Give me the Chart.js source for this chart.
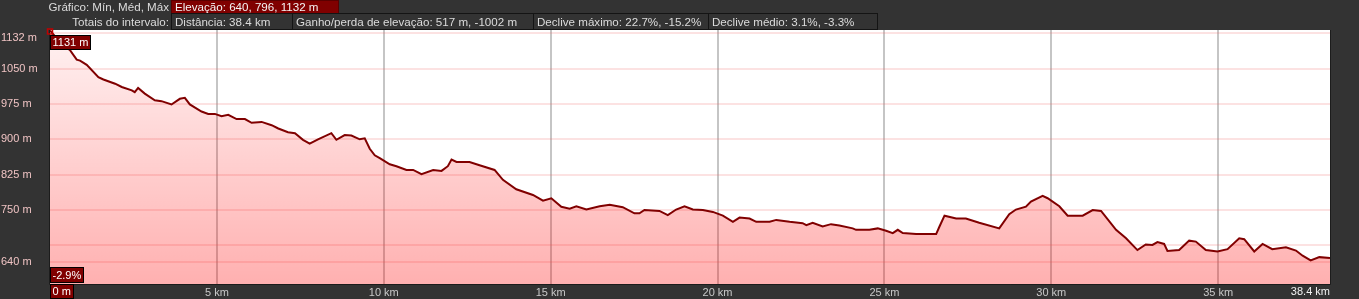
<!DOCTYPE html>
<html lang="pt-BR">
<head>
<meta charset="utf-8">
<script src="https://cdn.jsdelivr.net/npm/chart.js@4.4.1/dist/chart.umd.min.js"></script>
<style>
  html, body { margin: 0; padding: 0; background: #333333; }
  #wrap { position: relative; width: 1359px; height: 299px; overflow: hidden; }
  #grafico { position: absolute; left: 0; top: 0; }
  .lbl, .box { position: absolute; font: 11.6px "Liberation Sans", Arial, sans-serif; color: #dcdcdc; white-space: nowrap; }
  .lbl { left: 0; width: 169px; text-align: right; }
  .box { box-sizing: border-box; border: 1px solid #141414; padding-left: 3px; }
  .box.red { background: #800000; color: #f4f4f4; border-color: #5a0000; }
</style>
</head>
<body>
<div id="wrap">
  <canvas id="grafico" width="1359" height="299"></canvas>
  <div class="lbl" style="top:0;line-height:13px">Gráfico: Mín, Méd, Máx</div>
  <div class="box red" style="left:171px;top:0;width:168px;height:14px;line-height:12px">Elevação: 640, 796, 1132 m</div>
  <div class="lbl" style="top:14px;line-height:16px">Totais do intervalo:</div>
  <div class="box" style="left:171px;top:13px;width:122px;height:17px;line-height:15px">Distância: 38.4 km</div>
  <div class="box" style="left:292px;top:13px;width:242px;height:17px;line-height:15px">Ganho/perda de elevação: 517 m, -1002 m</div>
  <div class="box" style="left:533px;top:13px;width:176px;height:17px;line-height:15px">Declive máximo: 22.7%, -15.2%</div>
  <div class="box" style="left:708px;top:13px;width:170px;height:17px;line-height:15px">Declive médio: 3.1%, -3.3%</div>
</div>
<script>
/* Perfil de elevação: distância (km) x elevação (m) */

const distKm = [
  0, 0.3, 0.6, 0.8, 0.9, 1.1, 1.45, 1.6, 1.95, 2.15,
  2.45, 2.54, 2.64, 2.84, 3.14, 3.34, 3.64, 3.89, 4.04, 4.19,
  4.54, 4.74, 4.94, 5.14, 5.34, 5.59, 5.84, 6.04, 6.34, 6.64,
  6.84, 7.13, 7.34, 7.58, 7.78, 8.03, 8.43, 8.58, 8.83, 9.03,
  9.28, 9.43, 9.58, 9.73, 9.88, 10.18, 10.38, 10.68, 10.88, 11.13,
  11.48, 11.73, 11.92, 12.03, 12.18, 12.57, 12.87, 13.32, 13.57, 13.97,
  14.47, 14.77, 15.02, 15.32, 15.57, 15.77, 16.07, 16.47, 16.77, 17.16,
  17.51, 17.66, 17.81, 18.26, 18.51, 18.76, 19.01, 19.26, 19.56, 19.86,
  20.16, 20.46, 20.66, 20.96, 21.16, 21.56, 21.76, 22.16, 22.55, 22.66,
  22.85, 23.15, 23.40, 23.65, 24.05, 24.15, 24.55, 24.80, 25.05, 25.25,
  25.40, 25.55, 25.95, 26.35, 26.55, 26.65, 26.80, 27.15, 27.44, 27.84,
  28.44, 28.74, 28.94, 29.24, 29.39, 29.74, 29.89, 30.24, 30.49, 30.94,
  31.24, 31.49, 31.94, 32.24, 32.58, 32.83, 33.03, 33.18, 33.38, 33.48,
  33.83, 34.13, 34.33, 34.63, 34.98, 35.28, 35.63, 35.78, 36.08, 36.33,
  36.62, 37.03, 37.33, 37.53, 37.77, 38.03, 38.35
];
const elevM = [
  1131, 1106, 1089, 1069, 1067, 1058, 1032, 1027, 1018, 1011,
  1004, 1000, 1009, 997, 983, 981, 974, 986, 988, 974,
  959, 954, 954, 949, 952, 943, 943, 935, 937, 930,
  923, 915, 913, 899, 891, 900, 913, 899, 909, 908,
  900, 902, 880, 866, 860, 847, 843, 835, 835, 826,
  835, 833, 843, 857, 852, 852, 845, 835, 814, 794,
  782, 770, 775, 757, 753, 758, 751, 758, 761, 756,
  743, 743, 750, 748, 739, 751, 758, 751, 750, 746,
  738, 725, 734, 732, 725, 725, 729, 725, 722, 718,
  723, 715, 720, 717, 711, 708, 708, 711, 706, 701,
  708, 701, 699, 699, 699, 715, 738, 732, 732, 723,
  711, 741, 751, 757, 768, 780, 775, 758, 738, 738,
  750, 748, 708, 690, 665, 677, 676, 682, 678, 663,
  665, 685, 683, 665, 662, 667, 690, 688, 662, 678,
  667, 671, 664, 653, 643, 650, 648
];

const yGrade = [640, 675, 750, 825, 900, 975, 1050, 1125, 1132];   // linhas de grade
const yRotulos = [640, 750, 825, 900, 975, 1050];                   // rótulos normais
const yMin = 593, yMax = 1132;
const xTicks = [5, 10, 15, 20, 25, 30, 35];
const xMax = 38.35;
const rotuloMax = '1132 m', rotuloFim = '38.4 km', rotuloIni = '0 m';
const rotuloPonto = '1131 m', rotuloDeclive = '-2.9%';

const FONTE = '11px "Liberation Sans", Arial, sans-serif';

function caixa(ctx, txt, x, y, h) {
  ctx.font = FONTE;
  const w = Math.ceil(ctx.measureText(txt).width) + 5;
  ctx.fillStyle = '#800000';
  ctx.fillRect(x, y, w, h);
  ctx.strokeStyle = '#000';
  ctx.lineWidth = 1;
  ctx.strokeRect(x + .5, y + .5, w - 1, h - 1);
  ctx.fillStyle = '#ffffff';
  ctx.textAlign = 'left';
  ctx.textBaseline = 'middle';
  ctx.fillText(txt, x + 2.5, y + h / 2 + .5);
}

// fundo branco na área do gráfico
const fundoArea = {
  id: 'fundoArea',
  beforeDraw(chart) {
    const { ctx, chartArea: a } = chart;
    ctx.save();
    ctx.fillStyle = '#ffffff';
    ctx.fillRect(a.left, a.top, a.right - a.left, a.bottom - a.top);
    ctx.restore();
  }
};

// bordas, rótulos especiais e marcadores
const extras = {
  id: 'extras',
  afterDraw(chart) {
    const { ctx, chartArea: a, scales } = chart;
    ctx.save();
    ctx.strokeStyle = '#1c1c1c';
    ctx.lineWidth = 1;
    ctx.beginPath();
    ctx.moveTo(a.left - .5, a.top); ctx.lineTo(a.left - .5, a.bottom + .5);
    ctx.lineTo(a.right + .5, a.bottom + .5); ctx.lineTo(a.right + .5, a.top);
    ctx.stroke();

    // rótulo do máximo, preso abaixo do topo
    ctx.font = FONTE;
    ctx.fillStyle = '#efc3c3';
    ctx.textAlign = 'left';
    ctx.textBaseline = 'middle';
    const yPx = Math.max(scales.y.getPixelForValue(yMax), a.top + 8);
    ctx.fillText(rotuloMax, 1, yPx);

    // rótulo final do eixo x
    ctx.fillStyle = '#f2f2f2';
    ctx.textAlign = 'right';
    ctx.fillText(rotuloFim, scales.x.getPixelForValue(xMax), a.bottom + 8);

    // marcador do ponto inicial
    const px = scales.x.getPixelForValue(distKm[0]);
    const py = scales.y.getPixelForValue(elevM[0]);
    ctx.strokeStyle = '#c00000';
    ctx.lineWidth = 1.5;
    ctx.strokeRect(px - 2.5, py - 1.5, 5, 5);

    caixa(ctx, rotuloPonto, a.left, a.top + 5, 15);
    caixa(ctx, rotuloDeclive, a.left, a.bottom - 17, 16);
    caixa(ctx, rotuloIni, a.left, a.bottom, 15);
    ctx.restore();
  }
};

new Chart(document.getElementById('grafico'), {
  type: 'line',
  data: {
    datasets: [{
      data: distKm.map((d, i) => ({ x: d, y: elevM[i] })),
      borderColor: '#800000',
      borderWidth: 2,
      pointRadius: 0,
      tension: 0,
      fill: 'start',
      backgroundColor(c) {
        const a = c.chart.chartArea;
        if (!a) return 'rgba(255,0,0,0.15)';
        const g = c.chart.ctx.createLinearGradient(0, a.top, 0, a.bottom);
        g.addColorStop(0, 'rgba(255,0,0,0.05)');
        g.addColorStop(1, 'rgba(255,0,0,0.31)');
        return g;
      }
    }]
  },
  options: {
    responsive: false,
    animation: false,
    layout: { padding: { top: 30, right: 29, bottom: 0, left: 1 } },
    plugins: { legend: { display: false }, tooltip: { enabled: false } },
    scales: {
      x: {
        type: 'linear', min: 0, max: xMax,
        afterBuildTicks: s => { s.ticks = xTicks.map(v => ({ value: v })); },
        afterFit: s => { s.height = 15; },
        grid: { color: 'rgba(150,150,150,0.55)', lineWidth: 2, drawTicks: false },
        border: { display: false },
        ticks: {
          color: '#c8c8c8', font: { family: '"Liberation Sans", Arial, sans-serif', size: 11 },
          padding: 2, maxRotation: 0, autoSkip: false,
          callback: v => v + ' km'
        }
      },
      y: {
        min: yMin, max: yMax,
        afterBuildTicks: s => { s.ticks = yGrade.map(v => ({ value: v })); },
        afterFit: s => { s.width = 49; },
        grid: {
          color: c => c.tick && c.tick.value === yMax ? 'rgba(0,0,0,0)' : 'rgba(240,110,110,0.2)',
          lineWidth: 2, drawTicks: false
        },
        border: { display: false },
        ticks: {
          color: '#efc3c3', font: { family: '"Liberation Sans", Arial, sans-serif', size: 11 },
          crossAlign: 'far', padding: 0, autoSkip: false,
          callback: v => yRotulos.includes(v) ? v + ' m' : ''
        }
      }
    }
  },
  plugins: [fundoArea, extras]
});
</script>
</body>
</html>
